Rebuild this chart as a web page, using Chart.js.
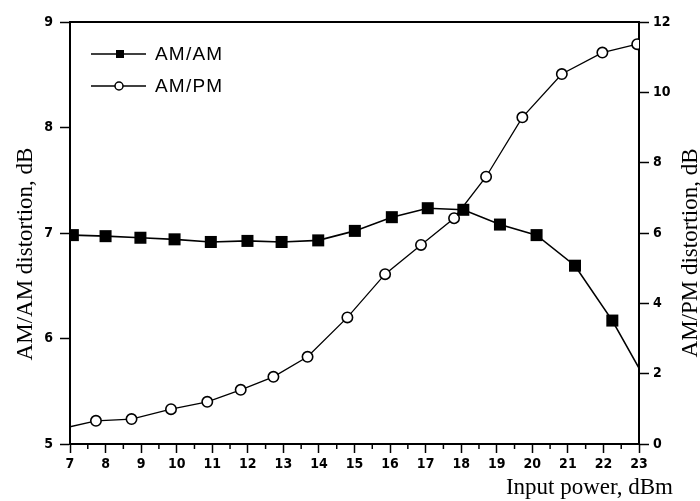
<!DOCTYPE html>
<html>
<head>
<meta charset="utf-8">
<script src="https://cdn.jsdelivr.net/npm/chart.js@4/dist/chart.umd.min.js"></script>
<style>
  html, body { margin: 0; padding: 0; background: #fff; }
  #wrap { width: 700px; height: 501px; position: relative; }
</style>
</head>
<body>
<div id="wrap"><canvas id="c" width="700" height="501"></canvas></div>
<script>
// ---- data ----
const xTickValues = [7, 8, 9, 10, 11, 12, 13, 14, 15, 16, 17, 18, 19, 20, 21, 22, 23];
const amamLabel = 'AM/AM';
const amamX = [7.08, 8.0, 8.98, 9.94, 10.96, 11.99, 12.95, 13.98, 15.01, 16.05, 17.06, 18.06, 19.09, 20.12, 21.2, 22.25, 23.0];
const amamY = [6.98, 6.97, 6.955, 6.94, 6.915, 6.925, 6.915, 6.93, 7.02, 7.15, 7.235, 7.22, 7.08, 6.98, 6.69, 6.17, 5.72];
const ampmLabel = 'AM/PM';
const ampmX = [7.0, 7.73, 8.73, 9.84, 10.86, 11.8, 12.72, 13.68, 14.8, 15.86, 16.87, 17.8, 18.7, 19.72, 20.83, 21.97, 22.95];
const ampmY = [0.49, 0.66, 0.71, 0.99, 1.2, 1.54, 1.91, 2.48, 3.6, 4.83, 5.66, 6.42, 7.6, 9.29, 10.52, 11.13, 11.37];
const leftTitle = 'AM/AM distortion, dB';
const rightTitle = 'AM/PM distortion, dB';
const xTitle = 'Input power, dBm';

const toPoints = (xs, ys) => xs.map((x, i) => ({ x: x, y: ys[i] }));

const tickFont = { family: "'Liberation Sans Narrow', 'DejaVu Sans Condensed', 'Liberation Sans'", size: 14, weight: 'bold' };
const serif = "'Liberation Serif', 'DejaVu Serif', serif";

const decorPlugin = {
  id: 'decor',
  afterDraw(chart) {
    const ctx = chart.ctx;
    const a = chart.chartArea;
    const xs = chart.scales.x;
    ctx.save();
    ctx.strokeStyle = '#000';
    // top frame line
    ctx.lineWidth = 2;
    ctx.beginPath();
    ctx.moveTo(a.left, a.top);
    ctx.lineTo(a.right, a.top);
    ctx.stroke();
    // minor x ticks at half values
    ctx.lineWidth = 1.5;
    for (let i = 0; i < xTickValues.length - 1; i++) {
      const v = (xTickValues[i] + xTickValues[i + 1]) / 2;
      const px = xs.getPixelForValue(v);
      ctx.beginPath();
      ctx.moveTo(px, a.bottom);
      ctx.lineTo(px, a.bottom + 5);
      ctx.stroke();
    }
    // axis titles
    ctx.fillStyle = '#000';
    ctx.font = '23px ' + serif;
    ctx.textAlign = 'right';
    ctx.textBaseline = 'alphabetic';
    ctx.fillText(xTitle, 673, 494);
    ctx.textAlign = 'center';
    ctx.save();
    ctx.translate(32, 254);
    ctx.rotate(-Math.PI / 2);
    ctx.fillText(leftTitle, 0, 0);
    ctx.restore();
    ctx.save();
    ctx.translate(697, 253);
    ctx.rotate(-Math.PI / 2);
    ctx.fillText(rightTitle, 0, 0);
    ctx.restore();
    // legend
    const items = chart.data.datasets;
    const ly = [54, 86];
    ctx.font = '19px ' + "'Liberation Sans', Arial, sans-serif";
    ctx.textAlign = 'left';
    ctx.textBaseline = 'middle';
    try { ctx.letterSpacing = '1.2px'; } catch (e) {}
    items.forEach((ds, i) => {
      const y = ly[i];
      ctx.lineWidth = 1.5;
      ctx.strokeStyle = '#000';
      ctx.beginPath();
      ctx.moveTo(91, y);
      ctx.lineTo(146, y);
      ctx.stroke();
      if (ds.pointStyle === 'rect') {
        ctx.fillStyle = '#000';
        ctx.fillRect(116, y - 4, 8, 8);
      } else {
        ctx.fillStyle = '#fff';
        ctx.beginPath();
        ctx.arc(119, y, 4, 0, Math.PI * 2);
        ctx.fill();
        ctx.stroke();
      }
      ctx.fillStyle = '#000';
      ctx.fillText(ds.label, 155, y + 1);
    });
    ctx.restore();
  }
};

const gridOpts = (len) => ({
  drawOnChartArea: false,
  drawTicks: true,
  tickLength: len,
  tickWidth: 1.5,
  tickColor: '#000',
  color: '#000'
});
const borderOpts = { display: true, color: '#000', width: 2 };

new Chart(document.getElementById('c'), {
  type: 'line',
  data: {
    datasets: [
      {
        label: amamLabel,
        data: toPoints(amamX, amamY),
        yAxisID: 'y',
        borderColor: '#000',
        borderWidth: 1.6,
        backgroundColor: '#000',
        pointStyle: 'rect',
        pointRadius: (c) => c.dataIndex === amamX.length - 1 ? 0 : 8.5,
        pointBorderWidth: 0,
        pointBackgroundColor: '#000',
        tension: 0
      },
      {
        label: ampmLabel,
        data: toPoints(ampmX, ampmY),
        yAxisID: 'y2',
        borderColor: '#000',
        borderWidth: 1.3,
        backgroundColor: '#fff',
        pointStyle: 'circle',
        pointRadius: (c) => c.dataIndex === 0 ? 0 : 5.2,
        pointBorderWidth: 1.6,
        pointBorderColor: '#000',
        pointBackgroundColor: '#fff',
        tension: 0
      }
    ]
  },
  options: {
    responsive: false,
    animation: false,
    events: [],
    layout: { padding: { top: 22, left: 0, right: 0, bottom: 0 } },
    plugins: { legend: { display: false }, tooltip: { enabled: false }, title: { display: false } },
    scales: {
      x: {
        type: 'linear',
        position: 'bottom',
        min: 7, max: 23,
        afterBuildTicks: (s) => { s.ticks = xTickValues.map(v => ({ value: v })); },
        afterFit: (s) => { s.height = 57; },
        ticks: { color: '#000', font: tickFont, padding: 3, maxRotation: 0, autoSkip: false },
        grid: gridOpts(9),
        border: borderOpts
      },
      y: {
        position: 'left',
        min: 5, max: 9,
        afterFit: (s) => { s.width = 70; },
        ticks: { stepSize: 1, color: '#000', font: tickFont, padding: 7 },
        grid: gridOpts(10),
        border: borderOpts
      },
      y2: {
        position: 'right',
        min: 0, max: 12,
        afterFit: (s) => { s.width = 61; },
        ticks: { stepSize: 2, color: '#000', font: tickFont, padding: 4 },
        grid: gridOpts(10),
        border: borderOpts
      }
    }
  },
  plugins: [decorPlugin]
});
</script>
</body>
</html>
